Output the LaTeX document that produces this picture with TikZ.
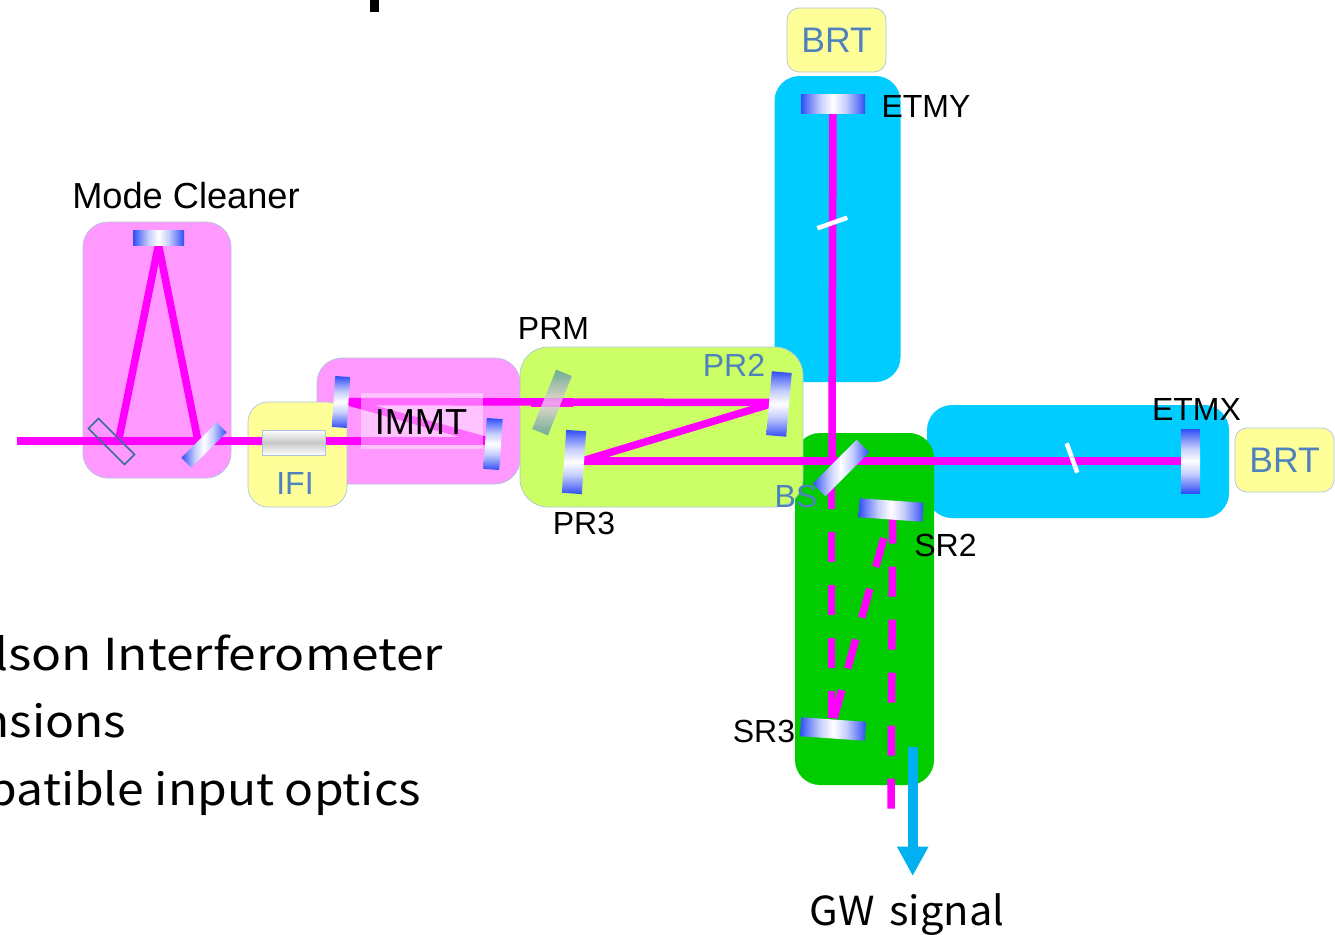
\documentclass[tikz,border=0pt]{standalone}
\usepackage{fontspec}
\setmainfont{Liberation Sans}
\newfontfamily\jpf[FakeStretch=1.13]{Noto Sans CJK JP}
\newfontfamily\jpk[FakeStretch=1.09]{Noto Sans CJK JP}
\newfontfamily\jpg[FakeStretch=1.04,WordSpace=1.6]{Noto Sans CJK JP}
\usetikzlibrary{arrows.meta}
\pgfdeclarelayer{boxes}
\pgfdeclarelayer{beams}
\pgfsetlayers{boxes,beams,main}
\definecolor{beamc}{HTML}{FF00FF}
\definecolor{mblue}{HTML}{2F4DF5}
\definecolor{lblue}{HTML}{4F81BD}
\definecolor{edgec}{HTML}{AFC3DC}
\pgfdeclarehorizontalshading{mirh}{100bp}{color(0bp)=(mblue);color(25bp)=(mblue);color(31bp)=(mblue!70!white);color(40bp)=(mblue!28!white);color(50bp)=(white);color(60bp)=(mblue!28!white);color(69bp)=(mblue!70!white);color(75bp)=(mblue);color(100bp)=(mblue)}
\pgfdeclareverticalshading{mirv}{100bp}{color(0bp)=(mblue);color(25bp)=(mblue);color(31bp)=(mblue!70!white);color(40bp)=(mblue!28!white);color(50bp)=(white);color(60bp)=(mblue!28!white);color(69bp)=(mblue!70!white);color(75bp)=(mblue);color(100bp)=(mblue)}
\tikzset{
  x=1pt,y=-1pt,
  region/.style={draw=edgec,line width=0.7pt,inner sep=0pt,outer sep=0pt},
  pinkbox/.style={region,fill={rgb,255:red,255;green,153;blue,255},rounded corners=25pt},
  yellowbox/.style={region,fill={rgb,255:red,255;green,255;blue,153},rounded corners=20pt},
  brtbox/.style={region,fill={rgb,255:red,255;green,255;blue,153},rounded corners=12pt,text=lblue,font=\fontsize{35.5}{36}\selectfont},
  cyanbox/.style={inner sep=0pt,outer sep=0pt,fill={rgb,255:red,0;green,204;blue,255},rounded corners=25pt},
  greenbox/.style={inner sep=0pt,outer sep=0pt,fill={rgb,255:red,0;green,204;blue,0},rounded corners=25pt},
  limebox/.style={region,fill={rgb,255:red,204;green,255;blue,102},rounded corners=28pt},
  mirrorh/.style={inner sep=0pt,outer sep=0pt,shading=mirh},
  mirrorv/.style={inner sep=0pt,outer sep=0pt,shading=mirv},
  beam/.style={draw=beamc,line width=7.5pt},
  dashbeam/.style={draw=beamc,line width=7.5pt,dash pattern=on 30pt off 23pt},
  tick/.style={draw=white,line width=4.5pt},
  lab/.style={inner sep=0pt,outer sep=0pt,font=\fontsize{32}{32}\selectfont},
  biglab/.style={inner sep=0pt,outer sep=0pt,font=\fontsize{36.2}{36}\selectfont},
  jplab/.style={inner sep=0pt,outer sep=0pt,font=\jpf\fontsize{44}{44}\selectfont},
}
\begin{document}
\begin{tikzpicture}
\useasboundingbox (0,0) rectangle (1335,934);
\clip (0,0) rectangle (1335,934);
\begin{pgfonlayer}{boxes}
  \node[pinkbox,minimum width=148pt,minimum height=256pt] (mcbox) at (157,350) {};
  \node[pinkbox,minimum width=203pt,minimum height=126pt] (immtbox) at (418.5,421) {};
  \node[yellowbox,minimum width=99pt,minimum height=105pt] (ifibox) at (297.5,454.5) {};
  \node[cyanbox,minimum width=126pt,minimum height=306pt] (ybox) at (837.5,229) {};
  \node[cyanbox,minimum width=302pt,minimum height=113pt] (xbox) at (1078,461.5) {};
  \node[greenbox,minimum width=139pt,minimum height=352pt] (srbox) at (864.5,609) {};
  \node[limebox,minimum width=283pt,minimum height=160pt] (prbox) at (661.5,427) {};
\end{pgfonlayer}
\node[brtbox,minimum width=99pt,minimum height=64pt] (brty) at (836.5,40) {BRT};
\node[brtbox,minimum width=99pt,minimum height=64pt] (brtx) at (1284.5,460) {BRT};
% mirrors
\node[mirrorh,minimum width=51pt,minimum height=15pt] (mctop) at (158.5,237.5) {};
\node[inner sep=0pt,outer sep=0pt,draw={rgb,255:red,56;green,112;blue,150},line width=1.6pt,rotate=-45,minimum width=51pt,minimum height=14pt] (mcin) at (111.5,441.5) {};
\node[mirrorh,rotate=45,minimum width=50pt,minimum height=14pt] (mcout) at (204,445) {};
\node[inner sep=0pt,outer sep=0pt,draw=edgec,line width=0.8pt,minimum width=63pt,minimum height=25pt,top color=white,bottom color=white,middle color=white!78!black] (ifi) at (294,442.5) {};
\node[mirrorv,rotate=-4,minimum width=15pt,minimum height=51pt] (immta) at (341,402) {};
\node[mirrorv,rotate=-4,minimum width=16pt,minimum height=51pt] (immtb) at (493,444) {};
\node[mirrorv,rotate=-5,minimum width=20pt,minimum height=64pt] (prtwo) at (779,404) {};
\node[mirrorv,rotate=-4,minimum width=20pt,minimum height=63pt] (prthree) at (574,462) {};
\node[mirrorh,rotate=45,minimum width=62pt,minimum height=18pt] (bs) at (841,468) {};
\node[mirrorh,rotate=-4,minimum width=64pt,minimum height=19pt] (srtwo) at (891,510) {};
\node[mirrorh,rotate=-4,minimum width=65pt,minimum height=19pt] (srthree) at (833,729) {};
\node[mirrorh,minimum width=64pt,minimum height=19pt] (etmy) at (833,103.5) {};
\node[mirrorv,minimum width=19pt,minimum height=64pt] (etmx) at (1190.5,461) {};
% beam end points
\coordinate (start) at (17,441);
\coordinate (hitl) at (118.5,441);
\coordinate (hitr) at (198,441);
\coordinate (hitb) at (488,441);
\coordinate (hita) at (347,401.5);
\coordinate (hitp) at (772,402.5);
\coordinate (hitq) at (772,403.5);
\coordinate (hits) at (582,461);
\coordinate (bshit) at (832,460.5);
\coordinate (bslow) at (831.7,478.5);
\coordinate (srlow) at (831.7,718);
\coordinate (srin) at (889.8,516.3);
\coordinate (srinb) at (834,718);
\coordinate (srout) at (892.7,513.6);
\coordinate (outend) at (891,809);
\coordinate (tipa) at (912.7,747);
\coordinate (tipb) at (912.7,876);
\coordinate (prma) at (531,402.5);
\coordinate (prmb) at (573,402.5);
\begin{pgfonlayer}{beams}
  \draw[beam] (start) -- (hitb);
  \draw[beam] (mctop.south) -- (hitl);
  \draw[beam] (mctop.south) -- (hitr);
  \draw[beam] (hitb) -- (hita);
  \draw[beam] (hita) -- (hitp);
  \draw[beam,line width=9pt] (prma) -- (prmb);
  \draw[beam] (hitq) -- (hits);
  \draw[beam] (hits) -- (etmx.center);
  \draw[beam] (etmy.center) -- (bshit);
  \draw[dashbeam] (bslow) -- (srlow);
  \draw[dashbeam,dash pattern=on 30pt off 22.6pt,dash phase=30pt] (srin) -- (srinb);
  \draw[dashbeam] (srout) -- (outend);
\end{pgfonlayer}
% overlay of IMMT and PRM
\node[inner sep=0pt,outer sep=0pt,fill=white,fill opacity=0.42,minimum width=122pt,minimum height=56pt] (immtglass) at (422,421) {};
\node[inner sep=0pt,outer sep=0pt,rotate=-22,minimum width=17pt,minimum height=64pt,top color={rgb,255:red,85;green,150;blue,160},bottom color={rgb,255:red,85;green,150;blue,160},middle color={rgb,255:red,240;green,205;blue,235},fill opacity=0.78] (prm) at (552,402.5) {};
% small ticks
\coordinate (ya) at (817.3,228.3);
\coordinate (yb) at (847.3,217.7);
\coordinate (xa) at (1066.7,443.3);
\coordinate (xb) at (1077.3,472.7);
\draw[tick] (ya) -- (yb);
\draw[tick] (xa) -- (xb);
% output arrow
\draw[draw={rgb,255:red,0;green,176;blue,240},line width=10pt,-{Triangle[width=29.5pt,length=29.5pt,fill={rgb,255:red,0;green,176;blue,240}]}] (tipa) -- (tipb);
% labels
\node[biglab] (lmc) at (186,196) {Mode Cleaner};
\node[biglab] (limmt) at (421,422) {IMMT};
\node[lab,text=lblue] (lifi) at (295,483) {IFI};
\node[lab] (lprm) at (553.5,328) {PRM};
\node[lab,text=lblue] (lprtwo) at (734,365) {PR2};
\node[lab] (lprthree) at (584,523) {PR3};
\node[lab,text=lblue] (lbs) at (796,496) {BS};
\node[lab] (lsrtwo) at (945.5,545) {SR2};
\node[lab] (lsrthree) at (764,731) {SR3};
\node[lab] (letmy) at (926,106) {ETMY};
\node[lab] (letmx) at (1196.5,409) {ETMX};
\node[jplab,anchor=base east] (linea) at (443,670) {lson Interferometer};
\node[jplab,font=\jpk\fontsize{44}{44}\selectfont,anchor=base east] (lineb) at (126,737) {nsions};
\node[jplab,font=\jpk\fontsize{44}{44}\selectfont,anchor=base east] (linec) at (421,805) {patible input optics};
\node[inner sep=0pt,outer sep=0pt,font=\jpg\fontsize{40}{40}\selectfont,anchor=base] (lgw) at (907,925) {GW signal};
\fill (370,-1) rectangle (379,12);
\end{tikzpicture}
\end{document}
